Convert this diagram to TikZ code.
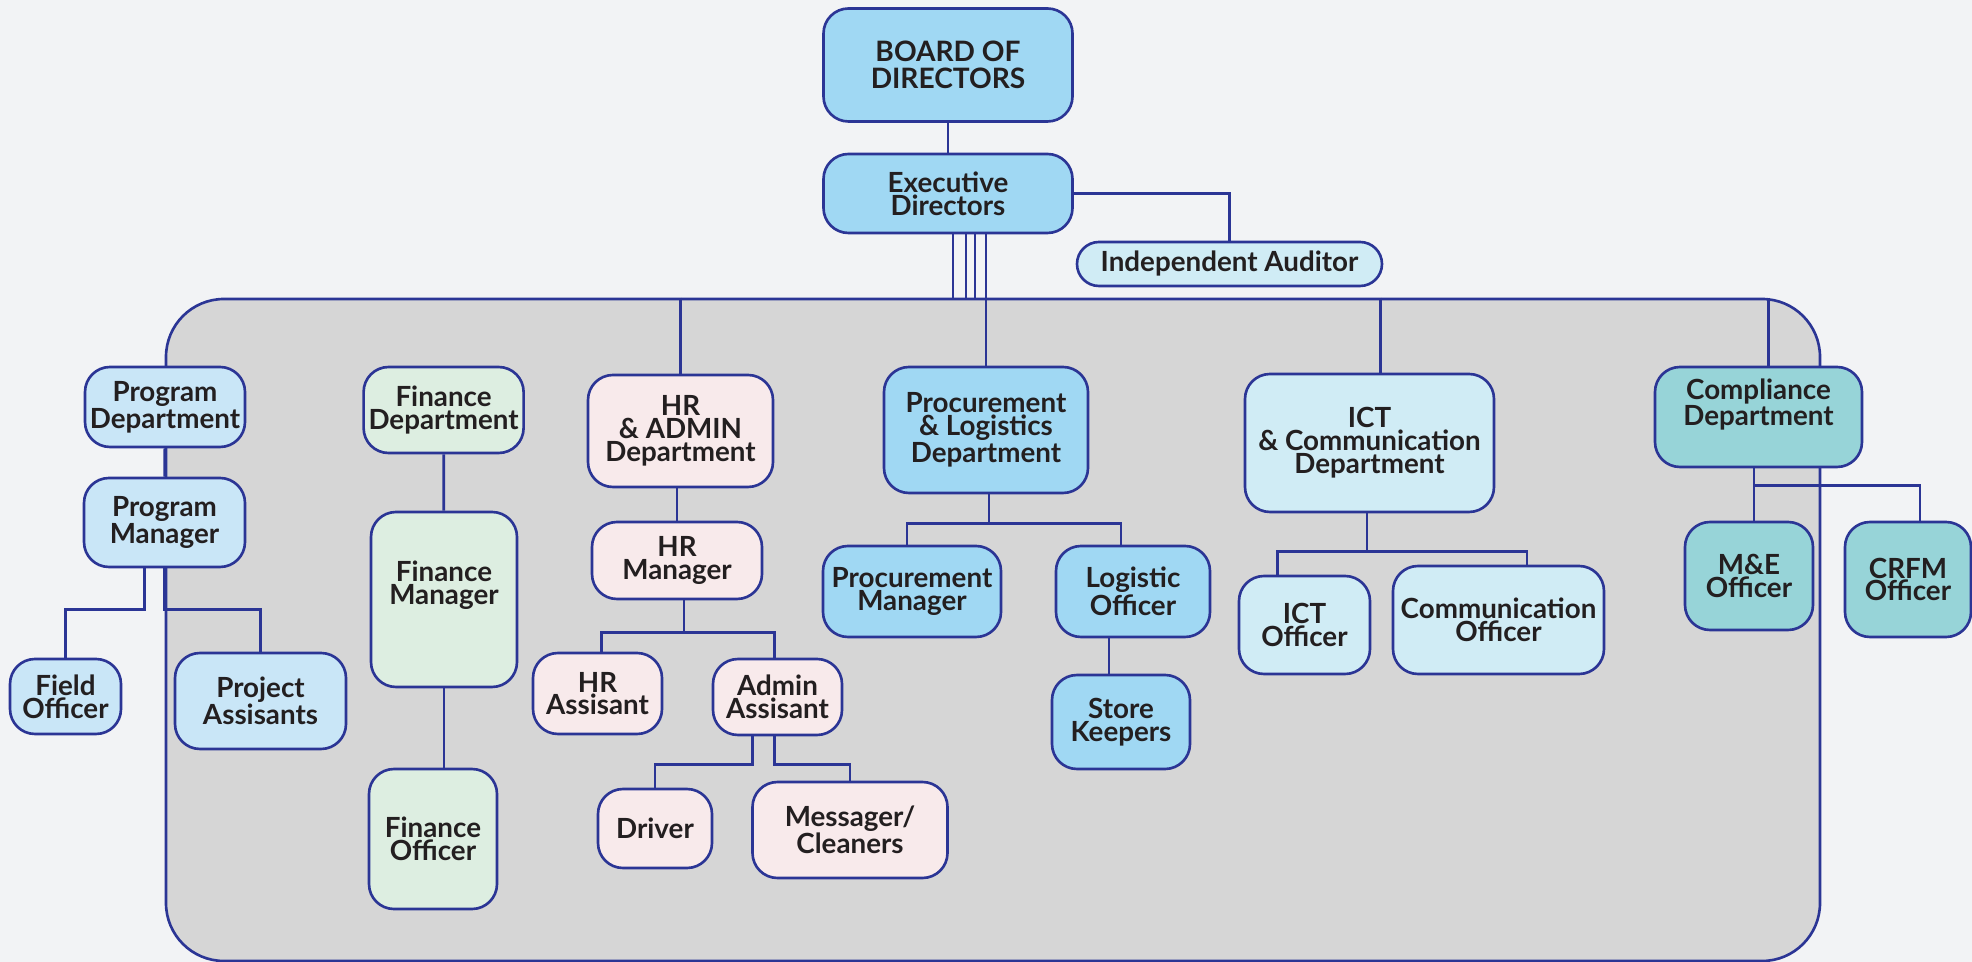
\documentclass[tikz,border=0pt]{standalone}
\usepackage{fontspec}
\setmainfont{Lato}
\usetikzlibrary{positioning, calc}
\definecolor{navyline}{RGB}{43,53,149}
\definecolor{inkdark}{RGB}{35,31,32}
\definecolor{pagegrey}{RGB}{242,243,245}
\definecolor{panelgrey}{RGB}{214,214,214}
\definecolor{skyblue}{RGB}{160,216,243}
\definecolor{paleblue}{RGB}{208,236,245}
\definecolor{progblue}{RGB}{201,230,247}
\definecolor{fingreen}{RGB}{221,238,225}
\definecolor{hrpink}{RGB}{248,234,235}
\definecolor{compteal}{RGB}{151,212,216}

\begin{document}
\begin{tikzpicture}[x=0.02cm, y=-0.02cm,
        every node/.style={font=\bfseries\fontsize{15.8}{13}\selectfont, text=inkdark},
        box/.style={rectangle, rounded corners=0.5cm, draw=navyline, line width=1.5pt,
                    align=center, inner sep=2pt},
        sz/.style 2 args={minimum width=#1*0.02cm, minimum height=#2*0.02cm},
        top/.style={box, fill=skyblue},
        prog/.style={box, fill=progblue},
        fin/.style={box, fill=fingreen},
        hr/.style={box, fill=hrpink},
        ict/.style={box, fill=paleblue},
        comp/.style={box, fill=compteal},
        link/.style={draw=navyline, line width=1.5pt}
    ]
        \useasboundingbox (0,0) rectangle (1972,962);
        \fill[pagegrey] (0,0) rectangle (1972,962);
        \node[box, fill=panelgrey, rounded corners=1.16cm, sz={1654}{662}] (panel) at (993,630) {};

        \node[top, sz={249}{113}, font=\bfseries\fontsize{16}{15}\selectfont] (board) at (948,65) {BOARD OF\\DIRECTORS};
        \node[top, sz={249}{79}] (exec) at (948,193.5) {Executive\\Directors};
        \node[ict, sz={305}{44}, rounded corners=0.44cm] (auditor) at (1229.5,264) {Independent Auditor};

        \node[prog, sz={160}{80}] (progdept) at (165,407) {Program\\Department};
        \node[prog, sz={161}{89}] (progmgr) at (164.5,522.5) {Program\\Manager};
        \node[prog, sz={111}{75}] (fieldoff) at (65.5,696.5) {Field\\Officer};
        \node[prog, sz={171}{96}] (projasst) at (260.5,701) {Project\\Assisants};

        \node[fin, sz={160}{86}] (findept) at (443.6,410) {Finance\\Department};
        \node[fin, sz={146}{175}] (finmgr) at (444,599.5) {Finance\\Manager\\[6pt]};
        \node[fin, sz={128}{140}] (finoff) at (433,839) {Finance\\Officer};

        \node[hr, sz={185}{112}] (hrdept) at (680.5,431) {HR\\\& ADMIN\\Department};
        \node[hr, sz={170}{77}] (hrmgr) at (677,560.5) {HR\\Manager};
        \node[hr, sz={129}{81}] (hrasst) at (597.5,693.5) {HR\\Assisant};
        \node[hr, sz={129}{76}] (adminasst) at (777.5,697) {Admin\\Assisant};
        \node[hr, sz={114}{79}] (driver) at (655,828.5) {Driver};
        \node[hr, sz={195}{96}] (messager) at (850,830) {Messager/\\Cleaners};

        \node[top, sz={204}{126}] (procdept) at (986,430) {Procurement\\\& Logistics\\Department};
        \node[top, sz={178}{91}] (procmgr) at (912,591.5) {Procurement\\Manager};
        \node[top, sz={154}{91}] (logoff) at (1133,591.5) {Logistic\\Officer};
        \node[top, sz={138}{94}] (storekeep) at (1121,722) {Store\\Keepers};

        \node[ict, sz={249}{138}] (ictdept) at (1369.5,443) {ICT\\\& Communication\\Department};
        \node[ict, sz={131}{98}] (ictoff) at (1304.5,625) {ICT\\Officer};
        \node[ict, sz={211}{108}] (commoff) at (1498.5,620) {Communication\\Officer};

        \node[comp, sz={207}{100}] (compdept) at (1758.5,417) {Compliance\\Department\\[4pt]};
        \node[comp, sz={128}{108}] (meoff) at (1749,576) {M\&E\\Officer};
        \node[comp, sz={126}{115}] (crfmoff) at (1908,579.5) {CRFM\\Officer};

        % top of the chart
        \draw[link] (board) -- (exec);
        \draw[link] (exec.east) -| (auditor.north);
        \foreach \dx in {5,18,27}
            \draw[link] ($(exec.south)+(\dx,0)$) -- ($(exec.south |- panel.north)+(\dx,0)$);
        \draw[link] (exec.south -| procdept.north) -- (procdept.north);
        \draw[link] (hrdept.north |- panel.north) -- (hrdept.north);
        \draw[link] ($(ictdept.north |- panel.north)+(11,0)$) -- ($(ictdept.north)+(11,0)$);
        \draw[link] ($(compdept.north |- panel.north)+(10,0)$) -- ($(compdept.north)+(10,0)$);

        % departments
        \draw[link] (progdept) -- (progmgr);
        \draw[link] ($(progmgr.south)+(-20,0)$) -- ++(0,41) -| (fieldoff.north);
        \draw[link] (progmgr.south) -- ++(0,41) -| (projasst.north);
        \draw[link] (findept) -- (finmgr);
        \draw[link] (finmgr.south) -- (finmgr.south |- finoff.north);
        \draw[link] (hrdept.south -| hrmgr.north) -- (hrmgr.north);
        \draw[link] ($(hrmgr.south)+(7,0)$) -- ++(0,32) -| ($(hrasst.north)+(4,0)$);
        \draw[link] ($(hrmgr.south)+(7,0)$) -- ++(0,32) -| ($(adminasst.north)+(-3,0)$);
        \draw[link] ($(adminasst.south)+(-25,0)$) -- ++(0,28) -| (driver.north);
        \draw[link] ($(adminasst.south)+(-3,0)$) -- ++(0,28) -| (messager.north);
        \draw[link] ($(procdept.south)+(3,0)$) -- ++(0,29) -| ($(procmgr.north)+(-5,0)$);
        \draw[link] ($(procdept.south)+(3,0)$) -- ++(0,29) -| ($(logoff.north)+(-12,0)$);
        \draw[link] ($(logoff.south)+(-24,0)$) -- ++(0,38);
        \draw[link] ($(ictdept.south)+(-2.5,0)$) -- ++(0,38) -| ($(ictoff.north)+(-27,0)$);
        \draw[link] ($(ictdept.south)+(-2.5,0)$) -- ++(0,38) -| ($(commoff.north)+(28.5,0)$);
        \draw[link] ($(compdept.south)+(-4.5,0)$) -- ++(0,17) -| ($(meoff.north)+(5,0)$);
        \draw[link] ($(compdept.south)+(-4.5,0)$) -- ++(0,17) -| ($(crfmoff.north)+(12,0)$);
\end{tikzpicture}
\end{document}
